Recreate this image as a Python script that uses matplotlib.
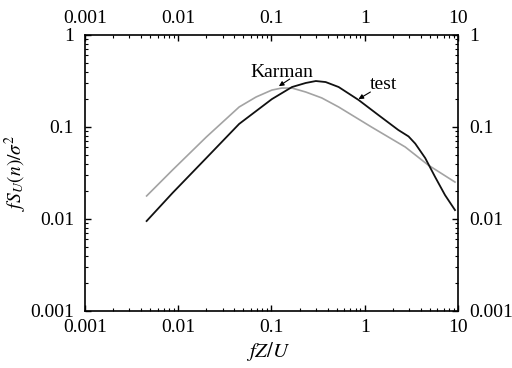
"""Normalized spectrum: measured (test) vs Karman, log-log."""

import matplotlib
matplotlib.use("Agg")
import matplotlib.pyplot as plt
from matplotlib.ticker import LogLocator, FixedLocator, FixedFormatter

# values
karman_f = [0.00458, 0.00869, 0.0200, 0.045, 0.0684, 0.101, 0.129, 0.166,
            0.233, 0.346, 0.525, 1.18, 2.72, 4.79, 9.29]
karman_s = [0.0178, 0.0341, 0.0778, 0.165, 0.212, 0.252, 0.265, 0.265,
            0.240, 0.207, 0.165, 0.100, 0.0606, 0.0386, 0.0252]

test_f = [0.00458, 0.00869, 0.0200, 0.045, 0.101, 0.166, 0.233, 0.299,
          0.381, 0.525, 0.857, 1.40, 2.29, 2.95, 3.48, 4.45, 5.69, 7.26, 9.29]
test_s = [0.0095, 0.0192, 0.046, 0.108, 0.201, 0.272, 0.301, 0.316,
          0.308, 0.272, 0.197, 0.135, 0.0928, 0.0790, 0.0660, 0.046, 0.0286,
          0.0182, 0.0125]

x_ticks = [0.001, 0.01, 0.1, 1, 10]
x_labels = ["0.001", "0.01", "0.1", "1", "10"]
y_ticks = [0.001, 0.01, 0.1, 1]
y_labels = ["0.001", "0.01", "0.1", "1"]


def main() -> None:
    plt.rcParams["font.family"] = ["Liberation Serif", "DejaVu Serif"]
    plt.rcParams["mathtext.fontset"] = "stix"

    fig = plt.figure(figsize=(5.12, 3.68), dpi=100)
    ax = fig.add_axes([0.166, 0.1549, 0.7285, 0.75])

    ax.plot(karman_f, karman_s, color="#a3a3a3", linewidth=1.2)
    ax.plot(test_f, test_s, color="#111111", linewidth=1.3)

    ax.set_xscale("log")
    ax.set_yscale("log")
    ax.set_xlim(0.001, 10)
    ax.set_ylim(0.001, 1)

    for axis, ticks, labels in ((ax.xaxis, x_ticks, x_labels), (ax.yaxis, y_ticks, y_labels)):
        axis.set_major_locator(FixedLocator(ticks))
        axis.set_major_formatter(FixedFormatter(labels))
        axis.set_minor_locator(LogLocator(base=10, subs=range(2, 10)))

    ax.tick_params(which="both", direction="in", top=True, right=True,
                   labeltop=True, labelright=True, labelsize=14)
    ax.tick_params(axis="x", which="major", pad=6)
    ax.tick_params(axis="y", which="major", pad=8)
    ax.tick_params(which="major", length=4, width=1)
    ax.tick_params(which="minor", length=2.5, width=0.8)
    for sp in ax.spines.values():
        sp.set_linewidth(1.2)

    ax.set_xlabel(r"$fZ/U$", fontsize=15)
    ax.set_ylabel(r"$fS_U(n)/\sigma^2$", fontsize=14)
    ax.xaxis.set_label_coords(0.49, -0.105)
    ax.yaxis.set_label_coords(-0.15, 0.5)

    # curve labels with short arrows, like the original
    ax.text(0.129, 0.396, "Karman", fontsize=14, ha="center", va="center")
    ax.annotate("", xy=(0.120, 0.278), xytext=(0.157, 0.332),
                arrowprops=dict(arrowstyle="-|>", color="black", lw=0.8,
                                mutation_scale=7, shrinkA=0, shrinkB=0))
    ax.text(1.585, 0.293, "test", fontsize=14, ha="center", va="center")
    ax.annotate("", xy=(0.857, 0.201), xytext=(1.15, 0.240),
                arrowprops=dict(arrowstyle="-|>", color="black", lw=0.8,
                                mutation_scale=7, shrinkA=0, shrinkB=0))

    fig.savefig("out.png", dpi=100)


if __name__ == "__main__":
    main()
